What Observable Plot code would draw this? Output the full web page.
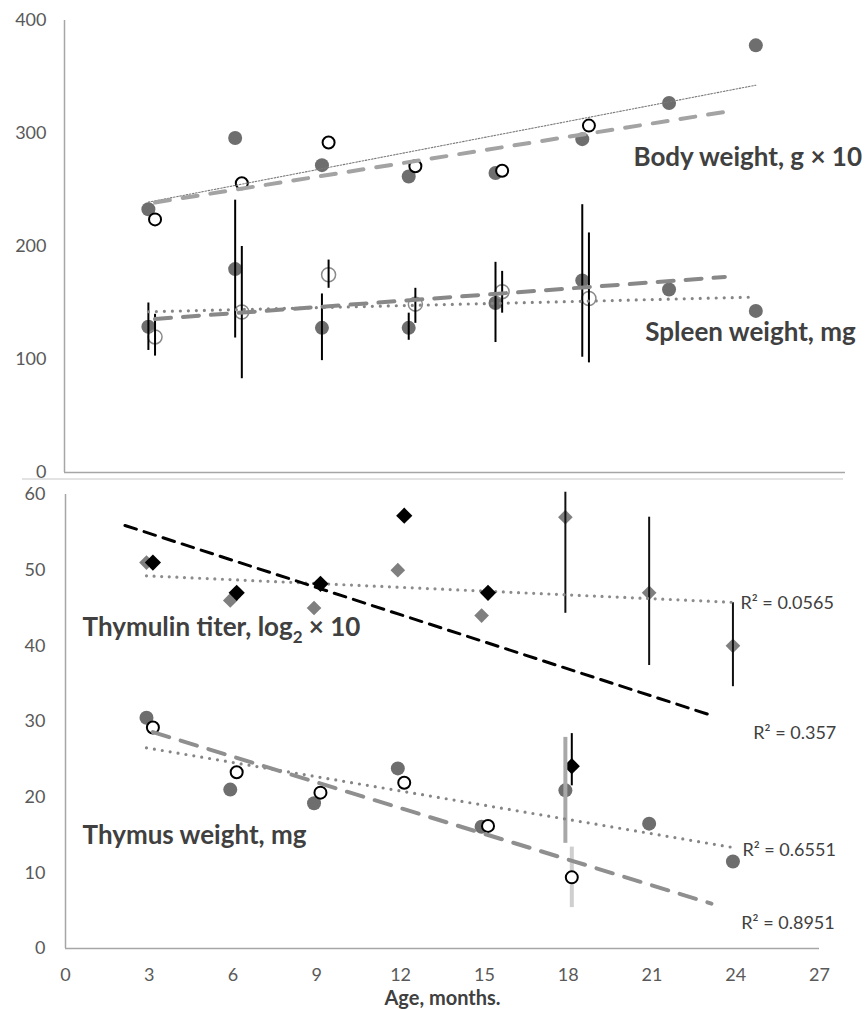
<!DOCTYPE html>
<html><head><meta charset="utf-8">
<script src="https://cdn.jsdelivr.net/npm/d3@7"></script>
<script src="https://cdn.jsdelivr.net/npm/@observablehq/plot@0.6"></script>
<style>
body{margin:0;background:#fff;}
#chart{width:867px;height:1009px;font-family:Lato,sans-serif;}
.divider{margin-left:22px;width:821px;height:0;border-top:2px solid #e3e3e3;}
svg{display:block;overflow:visible}
</style></head><body><div id="chart"></div>
<script>
// ---------- data ----------
const ages = [3, 6, 9, 12, 15, 18, 21, 24];
const agesShort = [3, 6, 9, 12, 15, 18];
const xTicks = [0, 3, 6, 9, 12, 15, 18, 21, 24, 27];
const topYTicks = [0, 100, 200, 300, 400];
const bottomYTicks = [0, 10, 20, 30, 40, 50, 60];

const bodyFilled = [233, 296, 272, 262, 265, 295, 327, 378];
const bodyOpen = [224, 256, 292, 271, 267, 307];

const spleenFilled = [129, 180, 128, 128, 150, 170, 162, 143];
const spleenFilledLo = [108, 119, 99, 117, 115, 102, null, null];
const spleenFilledHi = [150, 241, 158, 141, 186, 237, null, null];
const spleenOpen = [120, 142, 175, 149, 160, 154];
const spleenOpenLo = [103, 83, 163, 132, 141, 97];
const spleenOpenHi = [140, 200, 188, 163, 178, 212];

const thymulinGray = [51, 46, 45, 50, 44, 57, 47, 40];
const thymulinGrayLo = [null, null, null, null, null, 44.3, 37.4, 34.6];
const thymulinGrayHi = [null, null, null, null, null, 60.3, 57, 45.7];
const thymulinBlack = [51, 47, 48.2, 57.2, 47, 24.1];
const thymulinBlackLo = [null, null, null, null, null, 21.5];
const thymulinBlackHi = [null, null, null, null, null, 28.4];

const thymusFilled = [30.5, 21, 19.2, 23.8, 16.1, 20.9, 16.5, 11.5];
const thymusFilledLo = [null, null, null, null, null, 13.9, null, null];
const thymusFilledHi = [null, null, null, null, null, 27.9, null, null];
const thymusOpen = [29.2, 23.3, 20.6, 21.9, 16.2, 9.4];
const thymusOpenLo = [null, null, null, null, null, 5.4];
const thymusOpenHi = [null, null, null, null, null, 13.4];

const seriesLabels = ["Body weight, g \u00d7 10", "Spleen weight, mg", "Thymulin titer, log\u2082 \u00d7 10", "Thymus weight, mg"];
const r2Labels = ["R\u00b2 = 0.0565", "R\u00b2 = 0.357", "R\u00b2 = 0.6551", "R\u00b2 = 0.8951"];
const xLabel = "Age, months.";

// ---------- helpers ----------
const shiftA = -0.1, shiftB = 0.13;
function rows(xs, ys, lo, hi, shift) {
  return xs.map((x, i) => ({x: x + shift, y: ys[i], lo: lo ? lo[i] : null, hi: hi ? hi[i] : null}));
}
function trend(data, back, fwd) {
  const xs = data.map(d => d.x), ys = data.map(d => d.y);
  const mx = d3.mean(xs), my = d3.mean(ys);
  const b = d3.sum(xs, (x, i) => (x - mx) * (ys[i] - my)) / d3.sum(xs, x => (x - mx) ** 2);
  const a = my - b * mx;
  const x0 = d3.min(xs) - back, x1 = d3.max(xs) + fwd;
  return [{x: x0, y: a + b * x0}, {x: x1, y: a + b * x1}];
}
const bars = d => d.filter(r => r.lo != null);

const bwF = rows(ages, bodyFilled, null, null, shiftA);
const bwO = rows(agesShort, bodyOpen, null, null, shiftB);
const spF = rows(ages, spleenFilled, spleenFilledLo, spleenFilledHi, shiftA);
const spO = rows(agesShort, spleenOpen, spleenOpenLo, spleenOpenHi, shiftB);
const tgG = rows(ages, thymulinGray, thymulinGrayLo, thymulinGrayHi, shiftA);
const tgB = rows(agesShort, thymulinBlack, thymulinBlackLo, thymulinBlackHi, shiftB);
const tmF = rows(ages, thymusFilled, thymusFilledLo, thymusFilledHi, shiftA);
const tmO = rows(agesShort, thymusOpen, thymusOpenLo, thymusOpenHi, shiftB);

const gray = "#6e6e6e", axisCol = "#a6a6a6", tickCol = "#595959", labCol = "#404040";
const font = "Lato, 'Open Sans', sans-serif";
const bigLabel = {textAnchor: "start", fontSize: 26, fontWeight: "bold", fill: labCol};
const r2Style = {textAnchor: "start", fontSize: 18, fill: labCol};

// ---------- top panel ----------
const topChart = Plot.plot({
  width: 867, height: 478,
  marginLeft: 64, marginRight: 22, marginTop: 20, marginBottom: 6,
  x: {domain: [0, 27], axis: null},
  y: {domain: [0, 400], axis: null},
  style: {fontFamily: font, overflow: "visible", background: "white"},
  marks: [
    Plot.axisY({ticks: topYTicks, tickSize: 0, tickPadding: 18, label: null, fontSize: 18, fill: tickCol}),
    Plot.ruleX([0], {y1: 0, y2: 400, stroke: axisCol, strokeWidth: 1.5}),
    Plot.ruleY([0], {x1: 0, x2: 27, stroke: axisCol, strokeWidth: 1.5}),
    // body weight
    Plot.dot(bwF, {x: "x", y: "y", r: 7, fill: gray}),
    Plot.dot(bwO, {x: "x", y: "y", r: 6, fill: "white", stroke: "black", strokeWidth: 2}),
    Plot.line(trend(bwF, 0, 0), {x: "x", y: "y", stroke: "#7a7a7a", strokeWidth: 1.1, strokeDasharray: "1.6,1.6"}),
    Plot.line(trend(bwO, 0, 4.7), {x: "x", y: "y", stroke: "#a3a3a3", strokeWidth: 4, strokeDasharray: "15,13"}),
    // spleen weight
    Plot.dot(spF, {x: "x", y: "y", r: 7, fill: gray}),
    Plot.dot(spO, {x: "x", y: "y", r: 7, fill: "none", stroke: "#8a8a8a", strokeWidth: 1.5}),
    Plot.ruleX(bars(spF), {x: "x", y1: "lo", y2: "hi", stroke: "black", strokeWidth: 2}),
    Plot.ruleX(bars(spO), {x: "x", y1: "lo", y2: "hi", stroke: "black", strokeWidth: 2}),
    Plot.line(trend(spF, 0, 0), {x: "x", y: "y", stroke: "#858585", strokeWidth: 3.2, strokeDasharray: "0,8", strokeLinecap: "round"}),
    Plot.line(trend(spO, 0, 4.7), {x: "x", y: "y", stroke: "#888888", strokeWidth: 4, strokeDasharray: "16,12"}),
    // labels
    Plot.text([seriesLabels[0]], {x: 19.67, y: 278.8, text: d => d, ...bigLabel}),
    Plot.text([seriesLabels[1]], {x: 20.08, y: 123.9, text: d => d, ...bigLabel})
  ]
});

// ---------- bottom panel ----------
const bottomChart = Plot.plot({
  width: 867, height: 529,
  marginLeft: 65, marginRight: 48, marginTop: 14, marginBottom: 61,
  x: {domain: [0, 27], axis: null},
  y: {domain: [0, 60], axis: null},
  style: {fontFamily: font, overflow: "visible", background: "white"},
  marks: [
    Plot.axisY({ticks: bottomYTicks, tickSize: 0, tickPadding: 20, label: null, fontSize: 18, fill: tickCol}),
    Plot.axisX({ticks: xTicks, tickSize: 0, tickPadding: 20, label: null, fontSize: 18, fill: tickCol}),
    Plot.ruleX([0], {y1: 0, y2: 60, stroke: axisCol, strokeWidth: 1.5}),
    Plot.ruleY([0], {x1: 0, x2: 27, stroke: axisCol, strokeWidth: 1.5}),
    // thymulin
    Plot.dot(tgG, {x: "x", y: "y", r: 6.6, symbol: "diamond2", fill: "#7f7f7f"}),
    Plot.ruleX(bars(tgG), {x: "x", y1: "lo", y2: "hi", stroke: "#111", strokeWidth: 2}),
    Plot.line(trend(tgG, 0, 0), {x: "x", y: "y", stroke: "#8c8c8c", strokeWidth: 3.2, strokeDasharray: "0,7.6", strokeLinecap: "round"}),
    Plot.line(trend(tgB, 1, 5), {x: "x", y: "y", stroke: "black", strokeWidth: 3, strokeDasharray: "12,8"}),
    Plot.dot(tgB, {x: "x", y: "y", r: 7.3, symbol: "diamond2", fill: "black"}),
    Plot.ruleX(bars(tgB), {x: "x", y1: "lo", y2: "hi", stroke: "black", strokeWidth: 2}),
    // thymus
    Plot.dot(tmF, {x: "x", y: "y", r: 7, fill: gray}),
    Plot.ruleX(bars(tmF), {x: "x", y1: "lo", y2: "hi", stroke: "#a8a8a8", strokeWidth: 4}),
    Plot.ruleX(bars(tmO), {x: "x", y1: "lo", y2: "hi", stroke: "#cfcfcf", strokeWidth: 4}),
    Plot.dot(tmO, {x: "x", y: "y", r: 6, fill: "white", stroke: "black", strokeWidth: 2}),
    Plot.line(trend(tmF, 0, 0), {x: "x", y: "y", stroke: "#858585", strokeWidth: 3.2, strokeDasharray: "0,8", strokeLinecap: "round"}),
    Plot.line(trend(tmO, 0, 5), {x: "x", y: "y", stroke: "#8f8f8f", strokeWidth: 4, strokeDasharray: "17,12"}),
    // labels
    Plot.text([seriesLabels[2]], {x: 0.61, y: 42.4, text: d => d, ...bigLabel}),
    Plot.text([seriesLabels[3]], {x: 0.61, y: 14.9, text: d => d, ...bigLabel}),
    Plot.text([r2Labels[0]], {x: 24.17, y: 45.6, text: d => d, ...r2Style}),
    Plot.text([r2Labels[1]], {x: 24.63, y: 28.5, text: d => d, ...r2Style}),
    Plot.text([r2Labels[2]], {x: 24.24, y: 12.95, text: d => d, ...r2Style}),
    Plot.text([r2Labels[3]], {x: 24.2, y: 3.4, text: d => d, ...r2Style}),
    Plot.text([xLabel], {frameAnchor: "bottom", lineAnchor: "middle", dy: 50, text: d => d, fontSize: 20, fontWeight: "bold", fill: labCol})
  ]
});

// subscript in the thymulin label
d3.select(bottomChart).selectAll("text").each(function() {
  const t = this.textContent;
  if (t.includes("\u2082") && this.children.length === 0) {
    const [a, b] = t.split("\u2082");
    const s = d3.select(this).text(null);
    s.append("tspan").text(a);
    s.append("tspan").attr("dy", 7).attr("font-size", "17px").text("2");
    s.append("tspan").attr("dy", -7).text(b);
  }
});

const root = document.getElementById("chart");
root.append(topChart);
const div = document.createElement("div"); div.className = "divider"; root.append(div);
root.append(bottomChart);
</script></body></html>
